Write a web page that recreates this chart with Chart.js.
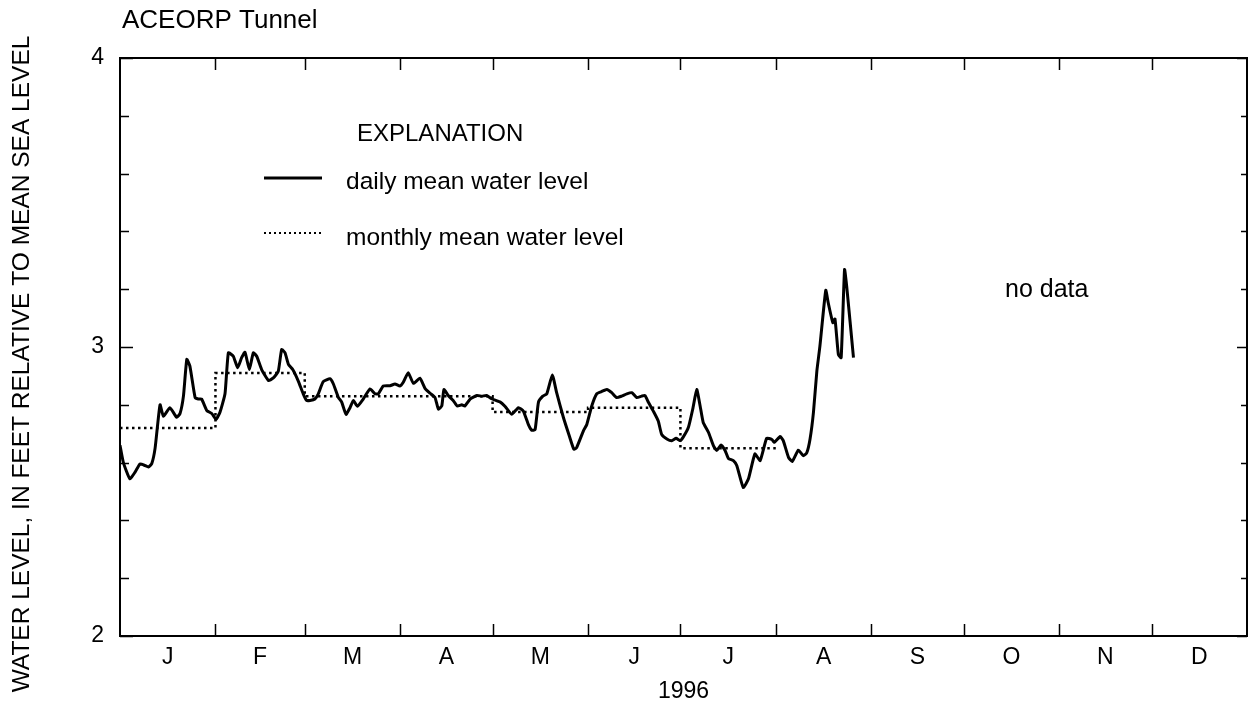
<!DOCTYPE html>
<html>
<head>
<meta charset="utf-8">
<title>ACEORP Tunnel water level, 1996</title>
<script src="https://cdn.jsdelivr.net/npm/chart.js@4/dist/chart.umd.min.js"></script>
<style>
  html, body { margin: 0; padding: 0; background: #fff; }
  #wrap { width: 1251px; height: 706px; position: relative; }
</style>
</head>
<body>
<div id="wrap"><canvas id="levelChart" width="1251" height="706"></canvas></div>
<script>
// Month layout for 1996 (leap year)
const monthLabels = ['J', 'F', 'M', 'A', 'M', 'J', 'J', 'A', 'S', 'O', 'N', 'D'];
const monthDays = [31, 29, 31, 30, 31, 30, 31, 31, 30, 31, 30, 31];

// Monthly mean water level, Jan - Jul (Aug is incomplete)
const monthlyMean = [2.72, 2.91, 2.83, 2.83, 2.775, 2.79, 2.65];

// Daily mean water level, by day of year (0 = Jan 1)
const dayOfYear = [
    0, 1.1, 3.2, 4.9, 6.5, 8.1, 9.2, 10.3, 11.4, 13.0, 14.1, 16.2, 18.4, 19.5, 20.6, 21.7,
    22.7, 24.4, 25.4, 26.5, 28.2, 29.8, 31.2, 32.5, 34.1, 35.2, 36.8, 38.2, 39.5, 40.6, 42.0,
    43.3, 44.4, 46.0, 48.2, 49.8, 51.4, 52.5, 53.6, 54.7, 56.1, 57.9, 59.5, 60.6, 61.7, 63.3,
    64.4, 66.0, 68.2, 69.3, 70.9, 72.0, 73.4, 74.7, 75.8, 77.1, 79.0, 81.2, 82.8, 83.9, 85.5,
    87.7, 89.3, 90.9, 92.0, 93.6, 95.3, 97.4, 99.1, 100.7, 102.3, 103.4, 104.5, 105.2, 106.6,
    108.2, 109.5, 111.0, 112.0, 113.7, 115.9, 117.5, 119.1, 120.7, 123.4, 125.0, 127.2, 129.4,
    131.0, 132.6, 133.7, 134.8, 135.9, 137.3, 138.6, 140.4, 141.8, 144.0, 145.9, 147.4, 148.3,
    150.5, 151.6, 153.2, 154.8, 156.4, 158.1, 159.7, 161.3, 162.9, 164.6, 166.2, 167.8, 169.4,
    170.5, 171.6, 173.2, 174.8, 175.9, 177.6, 179.2, 180.6, 181.9, 182.9, 184.6, 186.0, 187.3,
    188.4, 189.4, 191.1, 192.7, 193.8, 195.2, 196.5, 197.6, 199.2, 200.3, 202.4, 204.1, 206.2,
    207.9, 210.0, 211.7, 212.5, 214.4, 215.4, 217.1, 218.3, 220.3, 221.9, 223.0, 224.1, 225.2,
    226.3, 227.3, 229.2, 230.0, 231.5, 232.2, 233.3, 234.2, 235.3, 236.0, 238.2
];
const dailyLevel = [
    2.66, 2.60, 2.544, 2.567, 2.595, 2.59, 2.585, 2.596, 2.65, 2.80, 2.76, 2.79, 2.757, 2.77, 2.83, 2.957,
    2.934, 2.825, 2.82, 2.82, 2.78, 2.77, 2.75, 2.775, 2.838, 2.98, 2.968, 2.928, 2.963, 2.982, 2.922,
    2.98, 2.968, 2.922, 2.884, 2.893, 2.916, 2.991, 2.98, 2.94, 2.922, 2.882, 2.838, 2.815, 2.815, 2.82,
    2.838, 2.88, 2.89, 2.872, 2.826, 2.809, 2.767, 2.79, 2.815, 2.795, 2.82, 2.855, 2.838, 2.838, 2.865,
    2.866, 2.872, 2.865, 2.878, 2.911, 2.874, 2.892, 2.856, 2.84, 2.825, 2.785, 2.796, 2.853, 2.832,
    2.815, 2.796, 2.80, 2.796, 2.82, 2.832, 2.83, 2.832, 2.821, 2.81, 2.795, 2.767, 2.79,
    2.778, 2.732, 2.712, 2.714, 2.809, 2.83, 2.838, 2.903, 2.842, 2.756, 2.693, 2.646, 2.652,
    2.71, 2.732, 2.796, 2.838, 2.846, 2.853, 2.842, 2.825, 2.83, 2.838, 2.842, 2.825, 2.83,
    2.832, 2.809, 2.778, 2.744, 2.698, 2.682, 2.676, 2.684, 2.676, 2.688, 2.722, 2.785, 2.853,
    2.796, 2.739, 2.705, 2.659, 2.642, 2.661, 2.642, 2.614, 2.607, 2.59, 2.514, 2.544, 2.63,
    2.607, 2.684, 2.68, 2.67, 2.69, 2.676, 2.618, 2.604, 2.643, 2.624, 2.633, 2.682, 2.774,
    2.916, 3.003, 3.196, 3.153, 3.084, 3.097, 2.974, 2.963, 3.268, 3.21, 2.963
];

// Y axis
const yMin = 2;
const yMax = 4;
const yMajorTicks = [2, 3, 4];
const yMinorStep = 0.2;

const FONT = '"Liberation Sans", Arial, Helvetica, sans-serif';

// cumulative day at start of each month
const monthStart = [];
let acc = 0;
monthDays.forEach(d => { monthStart.push(acc); acc += d; });
const yearDays = acc;

const dailyPoints = dayOfYear.map((d, i) => ({ x: d, y: dailyLevel[i] }));

// monthly means drawn as flat steps across each month
const monthlyPoints = [];
monthlyMean.forEach((v, i) => {
    monthlyPoints.push({ x: monthStart[i], y: v });
    monthlyPoints.push({ x: monthStart[i] + monthDays[i], y: v });
});

function drawText(ctx, text, x, y, align, size) {
    ctx.font = size + 'px ' + FONT;
    ctx.textAlign = align;
    ctx.fillText(text, x, y);
}

// Frame, inward ticks, labels and the explanation box
const framePlugin = {
    id: 'frame',
    afterDraw(chart) {
        const ctx = chart.ctx;
        const area = chart.chartArea;
        const xs = chart.scales.x;
        const ys = chart.scales.y;

        ctx.save();
        ctx.strokeStyle = '#000';
        ctx.fillStyle = '#000';
        ctx.lineWidth = 2;
        ctx.strokeRect(area.left, area.top, area.right - area.left, area.bottom - area.top);

        ctx.lineWidth = 1.5;
        ctx.beginPath();
        // month boundary ticks, top and bottom
        for (let i = 1; i < monthStart.length; i++) {
            const px = Math.round(xs.getPixelForValue(monthStart[i])) + 0.5;
            ctx.moveTo(px, area.bottom);
            ctx.lineTo(px, area.bottom - 12);
            ctx.moveTo(px, area.top);
            ctx.lineTo(px, area.top + 12);
        }
        // value ticks, left and right
        for (let v = yMin; v <= yMax + 1e-9; v += yMinorStep) {
            const major = yMajorTicks.some(t => Math.abs(t - v) < 1e-6);
            const py = Math.round(ys.getPixelForValue(v)) + 0.5;
            const len = major ? 13 : 9;
            ctx.moveTo(area.left, py);
            ctx.lineTo(area.left + len, py);
            ctx.moveTo(area.right, py);
            ctx.lineTo(area.right - (major ? 10 : 6), py);
        }
        ctx.stroke();

        ctx.textBaseline = 'middle';
        yMajorTicks.forEach(t => {
            drawText(ctx, String(t), area.left - 16, ys.getPixelForValue(t), 'right', 23);
        });

        monthLabels.forEach((m, i) => {
            const cx = xs.getPixelForValue(monthStart[i] + monthDays[i] / 2);
            drawText(ctx, m, cx, area.bottom + 22, 'center', 23);
        });
        drawText(ctx, '1996', (area.left + area.right) / 2, area.bottom + 56, 'center', 23);

        ctx.textBaseline = 'alphabetic';
        drawText(ctx, 'ACEORP Tunnel', area.left + 2, 28, 'left', 26);

        // axis title
        ctx.save();
        ctx.translate(29, 364);
        ctx.rotate(-Math.PI / 2);
        drawText(ctx, 'WATER LEVEL, IN FEET RELATIVE TO MEAN SEA LEVEL', 0, 0, 'center', 24.5);
        ctx.restore();

        // explanation
        drawText(ctx, 'EXPLANATION', 357, 141, 'left', 24);
        ctx.lineWidth = 2.8;
        ctx.beginPath();
        ctx.moveTo(264, 178);
        ctx.lineTo(322, 178);
        ctx.stroke();
        drawText(ctx, 'daily mean water level', 346, 189, 'left', 24.5);

        ctx.lineWidth = 2.2;
        ctx.setLineDash([2, 3]);
        ctx.beginPath();
        ctx.moveTo(264, 233);
        ctx.lineTo(322, 233);
        ctx.stroke();
        ctx.setLineDash([]);
        drawText(ctx, 'monthly mean water level', 346, 245, 'left', 24.5);

        drawText(ctx, 'no data', 1005, 297, 'left', 25);
        ctx.restore();
    }
};

new Chart(document.getElementById('levelChart'), {
    type: 'line',
    data: {
        datasets: [
            {
                label: 'daily mean water level',
                data: dailyPoints,
                borderColor: '#000',
                borderWidth: 3,
                pointRadius: 0,
                tension: 0.15,
                fill: false
            },
            {
                label: 'monthly mean water level',
                data: monthlyPoints,
                borderColor: '#000',
                borderWidth: 2.5,
                borderDash: [2.5, 3.5],
                pointRadius: 0,
                tension: 0,
                fill: false
            }
        ]
    },
    options: {
        responsive: false,
        animation: false,
        layout: { padding: { left: 120, right: 4, top: 58, bottom: 70 } },
        plugins: {
            legend: { display: false },
            tooltip: { enabled: false },
            title: { display: false }
        },
        scales: {
            x: { type: 'linear', min: 0, max: yearDays, display: false },
            y: { type: 'linear', min: yMin, max: yMax, display: false }
        }
    },
    plugins: [framePlugin]
});
</script>
</body>
</html>
